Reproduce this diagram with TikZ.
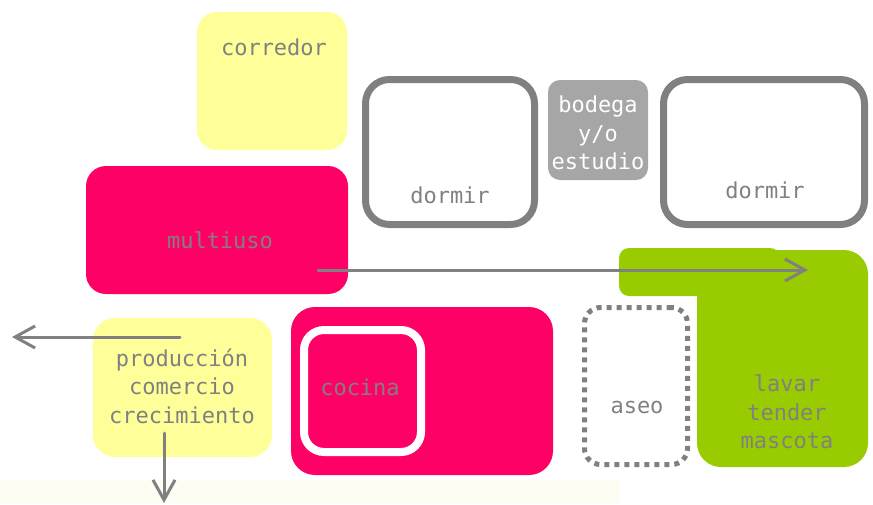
\documentclass[tikz,border=0pt]{standalone}
\usepackage{fontspec}
\newfontfamily\monofont{DejaVu Sans Mono}
\usetikzlibrary{arrows.meta}
\definecolor{amarillo}{HTML}{FFFF99}
\definecolor{rosa}{HTML}{FF0066}
\definecolor{verde}{HTML}{99CC00}
\definecolor{gris}{HTML}{808080}
\definecolor{grisclaro}{HTML}{A6A6A6}
\definecolor{fondo}{HTML}{FDFDF3}
\begin{document}
\begin{tikzpicture}[x=0.5pt,y=-0.5pt,>={Straight Barb[length=10pt,width=11pt]},
	line join=round,line cap=round,
	font=\monofont\fontsize{11}{14.3}\selectfont,
	caja/.style={rectangle,inner sep=0pt,outer sep=0pt},
	txt/.style={text=gris,align=center,inner sep=0pt},
	flecha/.style={->,draw=gris,line width=1.5pt}]
	\useasboundingbox (0,0) rectangle (873,504);
	\fill[fondo] (0,480) rectangle (620,504); % banda de abajo
	% cajas
	\node[caja,fill=amarillo,rounded corners=10pt,minimum width=75pt,minimum height=69pt] (corredor) at (272,81) {};
	\node[caja,draw=gris,line width=3.5pt,rounded corners=12pt,minimum width=84.5pt,minimum height=72.5pt] (dormirA) at (450,152) {};
	\node[caja,fill=grisclaro,rounded corners=6pt,minimum width=50pt,minimum height=50pt] (bodega) at (598,130) {};
	\node[caja,draw=gris,line width=3.5pt,rounded corners=12pt,minimum width=100.5pt,minimum height=72.5pt] (dormirB) at (764,152) {};
	\node[caja,fill=rosa,rounded corners=10pt,minimum width=131pt,minimum height=64pt] (multiuso) at (217,230) {};
	\node[caja,fill=verde,rounded corners=5pt,minimum width=80.5pt,minimum height=24pt] (verdeA) at (699.5,272) {};
	\node[caja,fill=verde,rounded corners=12pt,minimum width=85.5pt,minimum height=108.5pt] (verdeB) at (782.5,358.5) {};
	\node[caja,draw=gris,line width=2.5pt,line cap=butt,dash pattern=on 2.5pt off 2.5pt,rounded corners=8pt,minimum width=51.5pt,minimum height=78.5pt] (aseo) at (636,386) {};
	\node[caja,fill=rosa,rounded corners=12pt,minimum width=131pt,minimum height=84pt] (cocinaA) at (422,391) {};
	\node[caja,draw=white,line width=4pt,rounded corners=10pt,minimum width=58.5pt,minimum height=61pt] (cocinaB) at (362.5,391) {};
	\node[caja,fill=amarillo,rounded corners=11pt,minimum width=89.5pt,minimum height=69.5pt] (produccion) at (182.5,387.5) {};
	% textos
	\node[txt] (tCorredor) at (274,47) {corredor};
	\node[txt] (tDormirA) at (450,195) {dormir};
	\node[txt,text=white] (tBodega) at (598,133) {bodega\\y/o\\estudio};
	\node[txt] (tDormirB) at (765,190) {dormir};
	\node[txt] (tMultiuso) at (220,240) {multiuso};
	\node[txt] (tVerde) at (787,412) {lavar\\tender\\mascota};
	\node[txt] (tAseo) at (637,407) {aseo};
	\node[txt] (tCocina) at (360,387) {cocina};
	\node[txt] (tProduccion) at (182,386) {producción\\comercio\\crecimiento};
	% flechas
	\coordinate (m1) at (318,270);
	\coordinate (m2) at (808,270);
	\coordinate (p1) at (180,337);
	\coordinate (p2) at (12,337);
	\coordinate (p3) at (164,433);
	\coordinate (p4) at (164,503);
	\draw[flecha] (m1) -- (m2);
	\draw[flecha] (p1) -- (p2);
	\draw[flecha] (p3) -- (p4);
\end{tikzpicture}
\end{document}
